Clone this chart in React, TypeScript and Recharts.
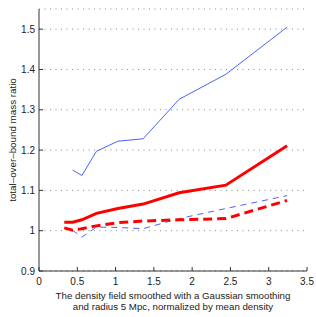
import React from 'react';
import { LineChart, Line, XAxis, YAxis, CartesianGrid } from 'recharts';

const xValues = [0.33, 0.44, 0.56, 0.75, 1.03, 1.36, 1.83, 2.44, 3.24];
const blueSolid = [null, 1.15, 1.137, 1.197, 1.222, 1.228, 1.326, 1.388, 1.505];
const redSolid = [1.021, 1.021, 1.027, 1.043, 1.055, 1.066, 1.094, 1.113, 1.211];
const blueDashed = [null, 1.001, 0.984, 1.009, 1.008, 1.005, 1.03, 1.055, 1.087];
const redDashed = [1.007, 1.001, 1.005, 1.012, 1.02, 1.024, 1.027, 1.03, 1.075];

const xTicks = [0, 0.5, 1, 1.5, 2, 2.5, 3, 3.5];
const yTicks = [0.9, 1, 1.1, 1.2, 1.3, 1.4, 1.5];
const yDomain = [0.9, 1.55];
const xDomain = [0, 3.5];

const xLabelLines = [
  'The density field smoothed with a Gaussian smoothing',
  'and radius 5 Mpc, normalized by mean density',
];
const yLabel = 'total\u2013over\u2013bound mass ratio';

const data = xValues.map((x, i) => ({
  x,
  blueSolid: blueSolid[i],
  redSolid: redSolid[i],
  blueDashed: blueDashed[i],
  redDashed: redDashed[i],
}));

const FONT = '"Liberation Sans", Arial, Helvetica, sans-serif';
const TXT = '#222';
const AX = '#333';
const TL = 4;

const BottomTick = (props: any) => {
  const { x, y, payload } = props;
  return (
    <g>
      <line x1={x} x2={x} y1={y} y2={y - TL} stroke={AX} strokeWidth={1} />
      <text x={x} y={y + 14} textAnchor="middle" fontSize={10} fontFamily={FONT} fill={TXT}>
        {String(payload.value)}
      </text>
    </g>
  );
};

const TopTick = (props: any) => {
  const { x, y } = props;
  return <line x1={x} x2={x} y1={y} y2={y + TL} stroke={AX} strokeWidth={1} />;
};

const LeftTick = (props: any) => {
  const { x, y, payload } = props;
  return (
    <g>
      <line x1={x} x2={x + TL} y1={y} y2={y} stroke={AX} strokeWidth={1} />
      <text x={x - 4} y={y + 3.5} textAnchor="end" fontSize={10} fontFamily={FONT} fill={TXT}>
        {String(payload.value)}
      </text>
    </g>
  );
};

const RightTick = (props: any) => {
  const { x, y } = props;
  return <line x1={x} x2={x - TL} y1={y} y2={y} stroke={AX} strokeWidth={1} />;
};

const XLabel = (props: any) => {
  const vb = props.viewBox || { x: 39, y: 271, width: 268, height: 46 };
  const cx = vb.x + vb.width / 2;
  return (
    <g>
      {xLabelLines.map((t, i) => (
        <text key={i} x={cx} y={vb.y + 27.5 + i * 11} textAnchor="middle" fontSize={9.7} fontFamily={FONT} fill={TXT}>
          {t}
        </text>
      ))}
    </g>
  );
};

const YLabel = (props: any) => {
  const vb = props.viewBox || { x: 0, y: 9, width: 39, height: 262 };
  const cy = vb.y + vb.height / 2;
  const cx = 12;
  return (
    <text
      x={cx}
      y={cy}
      transform={`rotate(-90, ${cx}, ${cy})`}
      textAnchor="middle"
      dominantBaseline="central"
      fontSize={9.8}
      fontFamily={FONT}
      fill={TXT}
    >
      {yLabel}
    </text>
  );
};

export default function App() {
  return (
    <div style={{ position: 'absolute', left: 0, top: 0, background: '#fff' }}>
      <LineChart width={316} height={317} data={data} margin={{ top: 9, right: 9, bottom: 0, left: 0 }}>
        <CartesianGrid vertical={false} stroke="#8a8a8a" strokeDasharray="1 4.5" />
        <XAxis
          dataKey="x"
          type="number"
          domain={xDomain}
          ticks={xTicks}
          interval={0}
          height={46}
          tickSize={0}
          tickMargin={0}
          tickLine={false}
          axisLine={{ stroke: AX }}
          tick={<BottomTick />}
          label={<XLabel />}
          allowDataOverflow
        />
        <XAxis
          xAxisId="top"
          orientation="top"
          dataKey="x"
          type="number"
          domain={xDomain}
          ticks={xTicks}
          interval={0}
          height={0}
          tickSize={0}
          tickMargin={0}
          tickLine={false}
          axisLine={{ stroke: AX }}
          tick={<TopTick />}
          allowDataOverflow
        />
        <YAxis
          type="number"
          domain={yDomain}
          ticks={yTicks}
          interval={0}
          width={39}
          tickSize={0}
          tickMargin={0}
          tickLine={false}
          axisLine={{ stroke: AX }}
          tick={<LeftTick />}
          label={<YLabel />}
          allowDataOverflow
        />
        <YAxis
          yAxisId="right"
          orientation="right"
          type="number"
          domain={yDomain}
          ticks={yTicks}
          interval={0}
          width={0}
          tickSize={0}
          tickMargin={0}
          tickLine={false}
          axisLine={{ stroke: AX }}
          tick={<RightTick />}
          allowDataOverflow
        />
        <Line dataKey="blueSolid" stroke="#4a63f5" strokeWidth={1} dot={false} isAnimationActive={false} />
        <Line dataKey="blueDashed" stroke="#4a63f5" strokeWidth={1} strokeDasharray="6 5" dot={false} isAnimationActive={false} />
        <Line dataKey="redDashed" stroke="#ff0000" strokeWidth={3} strokeDasharray="9 5" dot={false} isAnimationActive={false} />
        <Line dataKey="redSolid" stroke="#ff0000" strokeWidth={3} dot={false} isAnimationActive={false} />
      </LineChart>
    </div>
  );
}
